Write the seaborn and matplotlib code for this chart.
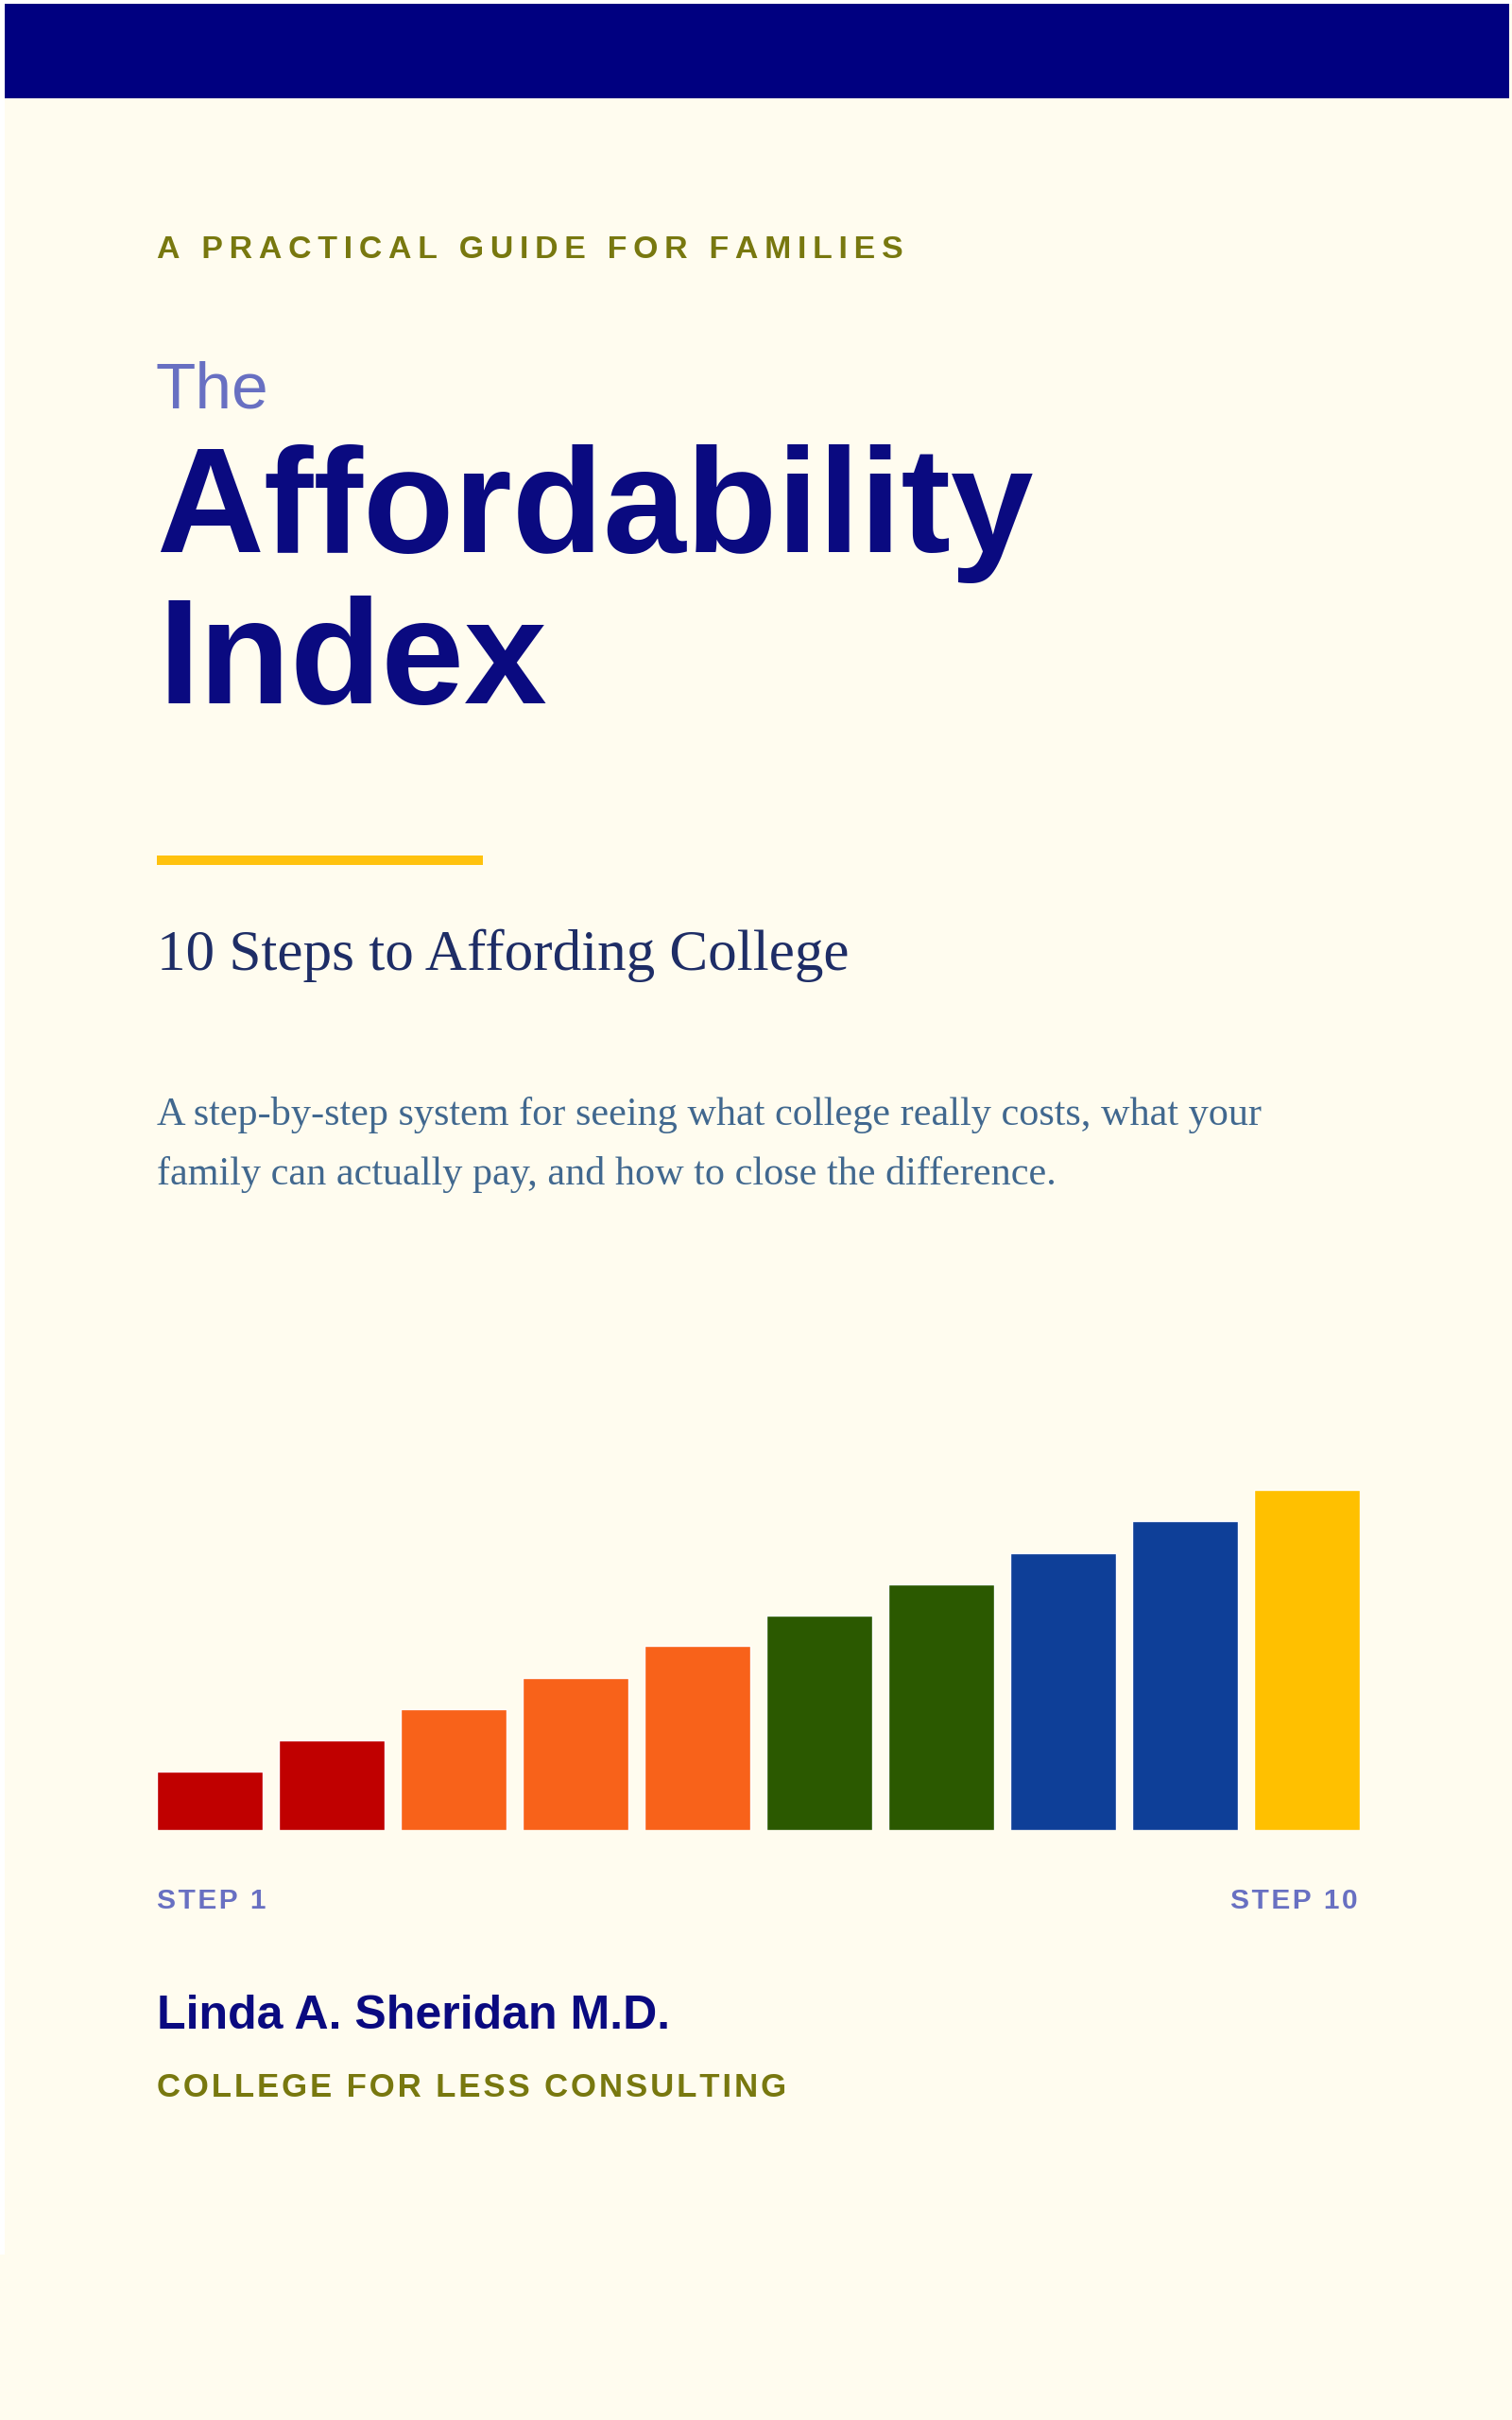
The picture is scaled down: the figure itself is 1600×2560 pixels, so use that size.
import numpy as np
import pandas as pd
import matplotlib.pyplot as plt
import seaborn as sns
from matplotlib.patches import Rectangle

# bar data (relative height of each step, tallest = 100)
pasos = ['1', '2', '3', '4', '5', '6', '7', '8', '9', '10']
alturas = [17.2, 26.4, 35.6, 44.7, 54.2, 63.1, 72.2, 81.4, 90.8, 100.0]
colores = ['#C00000', '#C00000', '#F8621A', '#F8621A', '#F8621A',
           '#2B5900', '#2B5900', '#0E3F98', '#0E3F98', '#FFC000']

# cover texts
kicker = 'A PRACTICAL GUIDE FOR FAMILIES'
titulo = ['The', 'Affordability', 'Index']
subtitulo = '10 Steps to Affording College'
resumen = ['A step-by-step system for seeing what college really costs, what your',
           'family can actually pay, and how to close the difference.']
etiquetas_paso = ['STEP 1', 'STEP 10']
autor = 'Linda A. Sheridan M.D.'
empresa = 'COLLEGE FOR LESS CONSULTING'

W, H = 1600, 2560
CREMA = '#FFFCEF'
NAVY = '#0A0A80'
OLIVA = '#78780F'
LILA = '#6870C2'

sns.set_style('white')
plt.rcParams['font.family'] = ['Liberation Sans', 'DejaVu Sans']
SANS = ['Liberation Sans', 'DejaVu Sans']
SERIF = ['Liberation Serif', 'DejaVu Serif']


def espaciar(texto, sep):
    # fake letter spacing
    return sep.join(texto)


fig = plt.figure(figsize=(W / 100, H / 100), dpi=100, facecolor=CREMA)

# page layer in pixel coordinates
pagina = fig.add_axes([0, 0, 1, 1])
pagina.set_xlim(0, W)
pagina.set_ylim(H, 0)
pagina.axis('off')
pagina.add_patch(Rectangle((0, 0), W, 4, color='white', lw=0))
pagina.add_patch(Rectangle((0, 0), 5, 2385, color='white', lw=0))
pagina.add_patch(Rectangle((5, 4), 1592, 100, color='#000080', lw=0))
pagina.add_patch(Rectangle((166, 905), 345, 10, color='#FFC20E', lw=0))

pagina.text(166, 273, espaciar(kicker, '\u2009'), fontsize=24.4, fontweight='bold',
            color=OLIVA, family=SANS, va='baseline')
pagina.text(165, 431, titulo[0], fontsize=50, color=LILA, family=SANS, va='baseline')
pagina.text(165, 584, titulo[1], fontsize=113.5, fontweight='bold', color=NAVY,
            family=SANS, va='baseline')
pagina.text(168, 744, titulo[2], fontsize=113.5, fontweight='bold', color=NAVY,
            family=SANS, va='baseline')

pagina.text(166, 1026, subtitulo, fontsize=44, color='#1E2D66', family=SERIF,
            va='baseline')
pagina.text(166, 1190, resumen[0], fontsize=30.4, color='#41688F', family=SERIF,
            va='baseline')
pagina.text(166, 1253, resumen[1], fontsize=30.4, color='#41688F', family=SERIF,
            va='baseline')

pagina.text(166, 2019, espaciar(etiquetas_paso[0], '\u200a'), fontsize=21.5,
            fontweight='bold', color=LILA, family=SANS, va='baseline')
pagina.text(1437, 2019, espaciar(etiquetas_paso[1], '\u200a'), fontsize=21.5,
            fontweight='bold', color=LILA, family=SANS, va='baseline', ha='right')

pagina.text(166, 2146, autor, fontsize=36, fontweight='bold', color=NAVY,
            family=SANS, va='baseline')
pagina.text(166, 2218, espaciar(empresa, '\u200a'), fontsize=25, fontweight='bold',
            color=OLIVA, family=SANS, va='baseline')

# staircase of bars
df = pd.DataFrame({'paso': pasos, 'altura': alturas})
ancho = 0.868
ax = fig.add_axes([166 / W, (H - 1936) / H, 1273 / W, 360 / H])
sns.barplot(data=df, x='paso', y='altura', hue='paso', palette=colores,
            legend=False, width=ancho, saturation=1, ax=ax)
ax.set_xlim(-ancho / 2, len(pasos) - 1 + ancho / 2)
ax.set_ylim(0, 100)
ax.axis('off')
ax.patch.set_alpha(0)

fig.savefig('out.png', dpi=100, facecolor=CREMA)
